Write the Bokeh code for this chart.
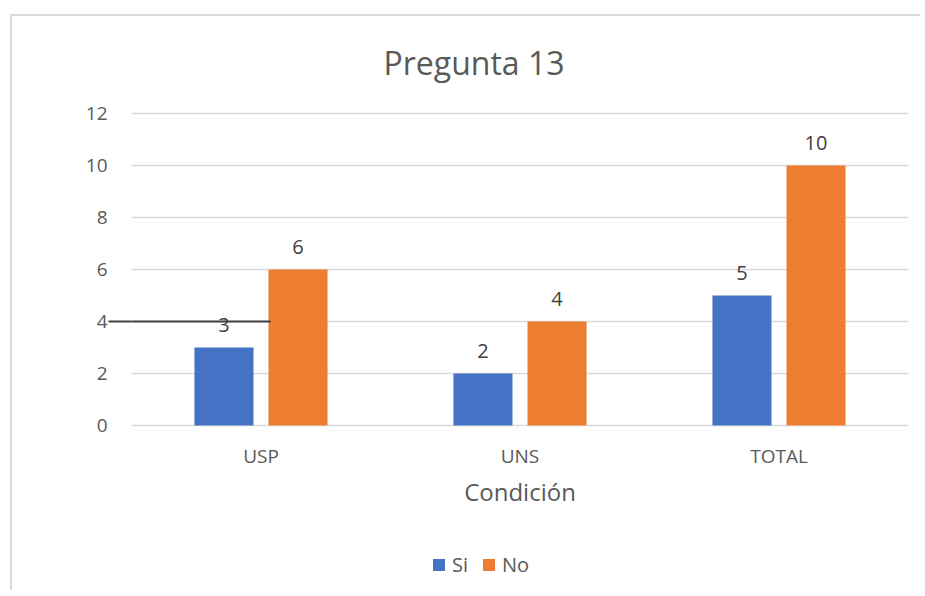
from bokeh.plotting import figure
from bokeh.models import (ColumnDataSource, FactorRange, Range1d, FixedTicker,
                          LabelSet, Label, Legend, LegendItem, BoxAnnotation, LinearAxis)
from bokeh.core.properties import value
from bokeh.transform import dodge
from bokeh.embed import file_html
from bokeh.resources import INLINE

categories = ["USP", "UNS", "TOTAL"]
si_values = [3, 2, 5]
no_values = [6, 4, 10]
series_names = ["Si", "No"]
y_tick_values = [0, 2, 4, 6, 8, 10, 12]
x_title = "Condición"
chart_title = "Pregunta 13"
stray_line_value = 4

FONT = "Open Sans"
TXT = "#595959"

src = ColumnDataSource(dict(
    cat=categories,
    si=si_values,
    no=no_values,
    si_txt=[str(v) for v in si_values],
    no_txt=[str(v) for v in no_values],
))

p = figure(width=910, height=576, output_backend="svg", toolbar_location=None,
           x_range=FactorRange(*categories, range_padding=0),
           y_range=Range1d(-6.346, 15.577),
           y_axis_location=None, x_axis_location=None,
           min_border_left=119, min_border_right=14,
           min_border_top=4, min_border_bottom=2)
p.styles = {"border-left": "2px solid #d9d9d9", "border-top": "2px solid #d9d9d9",
            "margin-left": "10px", "margin-top": "14px"}
p.outline_line_color = None
p.background_fill_color = "white"
p.border_fill_color = "white"

p.xgrid.grid_line_color = None
p.ygrid.ticker = FixedTicker(ticks=y_tick_values)
p.ygrid.grid_line_color = "#d9d9d9"
p.ygrid.grid_line_width = 1.3

# chart title above the top gridline
p.add_layout(Label(x=1.5, y=max(y_tick_values), x_offset=-46, y_offset=51, text=chart_title,
                   text_align="center", text_baseline="alphabetic", text_font=FONT,
                   text_font_size="32px", text_color=TXT))

bw = 0.228
off = 0.143
r_si = p.vbar(x=dodge("cat", -off, range=p.x_range), top="si", width=bw, source=src,
              fill_color="#4472C4", line_color=None)
r_no = p.vbar(x=dodge("cat", off, range=p.x_range), top="no", width=bw, source=src,
              fill_color="#ED7D31", line_color=None)

for col, o in (("si", -off), ("no", off)):
    p.add_layout(LabelSet(x=dodge("cat", o, range=p.x_range), y=col, text=col + "_txt",
                          source=src, text_align="center", text_baseline="alphabetic",
                          y_offset=16, text_font=value(FONT), text_font_size=value("20px"),
                          text_color="#404040"))

# category labels and axis title under the zero line
p.add_layout(LabelSet(x="cat", y=0, text="cat", source=src, y_offset=-37,
                      text_align="center", text_baseline="alphabetic",
                      text_font=value(FONT), text_font_size=value("19px"), text_color=TXT))
p.add_layout(Label(x=1.5, y=0, y_offset=-66, text=x_title, text_align="center",
                   text_baseline="alphabetic", text_font=FONT, text_font_size="24px",
                   text_color=TXT))

# stray black line (outside part) drawn as an axis tick
tick_axis = LinearAxis(ticker=FixedTicker(ticks=[stray_line_value]),
                       major_tick_out=23, major_tick_in=0,
                       major_tick_line_color="#404040", major_tick_line_width=2,
                       minor_tick_line_color=None, axis_line_color=None,
                       major_label_text_font_size="0px", major_label_text_color=None,
                       major_label_standoff=0)
p.add_layout(tick_axis, "left")

yaxis = LinearAxis(ticker=FixedTicker(ticks=y_tick_values),
                   axis_line_color=None, major_tick_line_color=None, minor_tick_line_color=None,
                   major_tick_out=0, major_tick_in=0, major_label_standoff=1,
                   major_label_text_font=FONT, major_label_text_font_size="19px",
                   major_label_text_color=TXT)
p.add_layout(yaxis, "left")

# stray line (inside part)
p.add_layout(BoxAnnotation(left=0, right=256, left_units="canvas", right_units="canvas",
                           bottom=stray_line_value - 0.04, top=stray_line_value + 0.04,
                           fill_color="#404040", fill_alpha=1,
                           line_color=None, level="overlay"))

legend = Legend(items=[LegendItem(label=series_names[0], renderers=[r_si]),
                       LegendItem(label=series_names[1], renderers=[r_no])],
                orientation="horizontal", location=(300, 12),
                glyph_width=15, glyph_height=15, label_height=15, label_width=15,
                label_standoff=6, spacing=13, padding=0, margin=0,
                border_line_color=None, background_fill_alpha=0,
                label_text_font=FONT, label_text_font_size="20px", label_text_color=TXT)
p.add_layout(legend, "center")

open("out.html", "w").write(file_html(p, INLINE))
